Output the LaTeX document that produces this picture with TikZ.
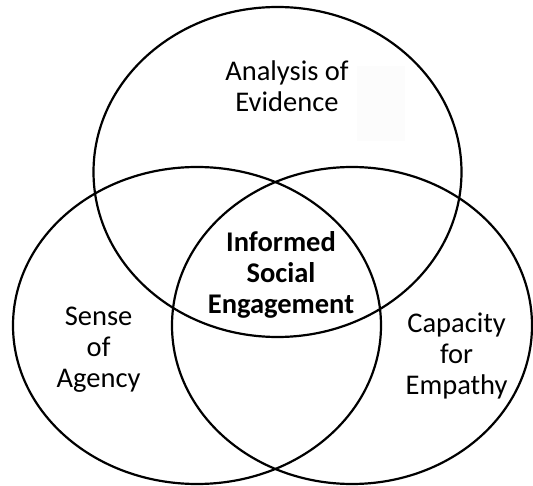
\documentclass[tikz,border=0pt]{standalone}
\usepackage{fontspec}
\setmainfont{Carlito}
\begin{document}
\begin{tikzpicture}[x=1pt, y=-1pt, line width=2.2pt,
    venn text/.style={font=\fontsize{28.5}{31}\selectfont, align=center}]
    \useasboundingbox (0,0) rectangle (533,486);

    % Faint patch next to the top label
    \fill[black!1] (357,66) rectangle (405,141);

    % Top ellipse
    \draw (277.5,172) ellipse [x radius=184, y radius=165];
    % Left ellipse
    \draw (197,325.5) ellipse [x radius=184, y radius=158.5];
    % Right ellipse
    \draw (352,325.5) ellipse [x radius=180, y radius=158.5];

    % Labels
    \node[venn text] (evidence) at (287,86) {Analysis of\\Evidence};
    \node[venn text] (agency) at (98.6,350) {Sense\\of\\Agency};
    \node[venn text] (empathy) at (456.6,356) {Capacity\\for\\Empathy};
    \node[venn text, font=\fontsize{28.5}{31}\selectfont\bfseries] (engagement) at (281,274.5) {Informed\\Social\\Engagement};
\end{tikzpicture}
\end{document}
